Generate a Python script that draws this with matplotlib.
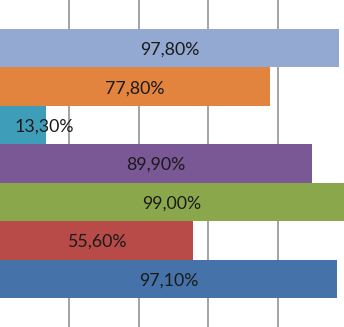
import matplotlib
matplotlib.use("Agg")
import matplotlib.pyplot as plt

values = [97.8, 77.8, 13.3, 89.9, 99.0, 55.6, 97.1]
labels = ["97,80%", "77,80%", "13,30%", "89,90%", "99,00%", "55,60%", "97,10%"]
colors = ["#93A9D2", "#E2843D", "#3E9EBA", "#7A5795", "#8AA84B", "#B84B48", "#4572A9"]
gridlines = [20, 40, 60, 80]

fig = plt.figure(figsize=(3.44, 3.27), dpi=100)
ax = fig.add_axes([0, 0, 1, 1])
n = len(values)
pos = list(range(n))
ax.barh(pos, values, height=1.0, color=colors, zorder=2)
for g in gridlines:
    ax.axvline(g, color="#8A8A8A", lw=1.1, zorder=1)
for p, v, t in zip(pos, values, labels):
    x = max(v / 2, 12.7)
    ax.text(x, p + 0.04, t, ha="center", va="center", fontsize=12.8,
            family=["Lato", "DejaVu Sans"], color="#1A1A1A", zorder=3)
ax.set_xlim(0, 99.13)
ax.set_ylim(n - 0.5 + 0.755, -0.5 - 0.755)
ax.axis("off")
fig.savefig("out.png", dpi=100)
